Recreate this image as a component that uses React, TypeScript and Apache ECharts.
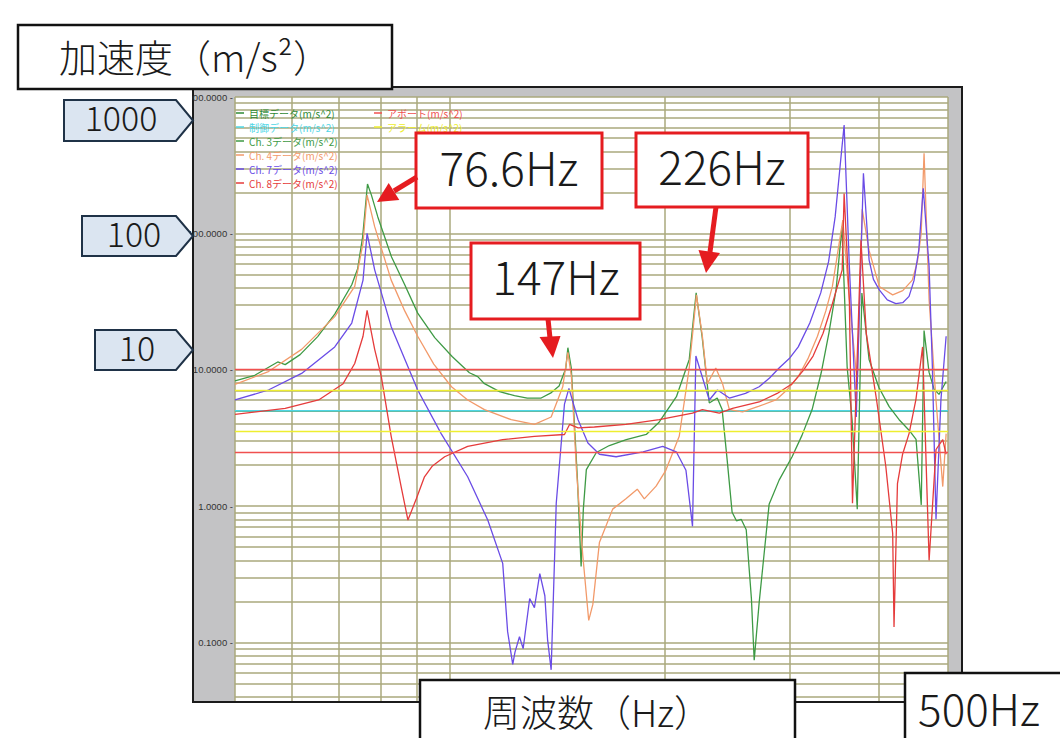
import React, { useEffect, useRef } from "react";
import * as echarts from "echarts";

// ---- axes ----
const FREQ_RANGE = [50, 500];
const ACCEL_RANGE = [0.0372, 1000];
const FREQ_GRID = [50, 60, 70, 80, 90, 100, 200, 300, 400, 500];
const ACCEL_GRID = [
  0.04, 0.05, 0.06, 0.07, 0.08, 0.09,
  0.1, 0.2, 0.3, 0.4, 0.5, 0.6, 0.7, 0.8, 0.9,
  1, 2, 3, 4, 5, 6, 7, 8, 9,
  10, 20, 30, 40, 50, 60, 70, 80, 90,
  100, 200, 300, 400, 500, 600, 700, 800, 900, 1000,
];
const ACCEL_LABELS = [0.1, 1, 10, 100, 1000];

// ---- levels ----
const TARGET_LEVEL = 5;
const CONTROL_LEVEL = 5;
const ABORT_LEVELS = [10, 2.5];
const ALARM_LEVELS = [7.07, 3.54];

// ---- measured channels [Hz, m/s^2] ----
const CH3 = [
  [50, 8.3], [53.3, 9.1], [57.4, 11.4], [58.8, 10.9], [61.7, 12.9], [65.3, 17.5], [69, 25.6], [72.9, 42],
  [74.3, 55], [75.5, 94], [76.7, 230], [77.7, 190], [79.3, 132], [82.9, 67], [86.5, 42], [90.2, 26],
  [95.3, 17.2], [100.8, 12.5], [106.6, 9.5], [109.5, 8.9], [111.9, 7.9], [117.5, 6.9], [123.3, 6.45],
  [128.5, 6.2], [134.4, 6.2], [138.9, 6.8], [142.4, 7.6], [145.5, 10.2], [146.5, 14.5], [148.1, 10.3],
  [149.6, 4.1], [151.1, 1.56], [152.9, 0.36], [154, 0.95], [155.5, 1.85], [160.6, 2.47], [167.5, 2.78],
  [176.9, 3.07], [188.7, 3.35], [196.5, 4.1], [208, 6.34], [216.8, 11.9], [221.7, 36.6], [226, 17.5],
  [231.3, 5.7], [237.3, 6.2], [241.1, 5.1], [245, 2.2], [249, 0.9], [252.5, 0.78], [256.4, 0.8], [260.6, 0.67],
  [265, 0.21], [267.4, 0.074], [271.7, 0.195], [280.6, 1.03], [289.8, 1.55], [302.2, 2.3], [312, 3.3],
  [322.4, 5.1], [332, 9.5], [340.5, 18.8], [348.4, 39], [355, 112], [361, 10.5], [366.8, 4.3], [373, 0.95],
  [378.6, 36.5], [387.5, 11.9], [400, 7.4], [413.5, 5.36], [427, 4.3], [440.9, 3.6], [451, 3.08],
  [458.6, 1.02], [462.8, 19.4], [470.3, 9.6], [478, 7.2], [485.7, 6.6], [497, 8.2],
];
const CH4 = [
  [50, 7.8], [55.7, 9.7], [62, 14.1], [69, 24.5], [73.6, 40.8], [75.6, 85], [76.6, 191], [78.5, 112],
  [82.8, 45.4], [86.5, 27], [90.2, 17.6], [95, 11], [100.6, 7.5], [106, 6.0], [111.9, 5.1], [122, 4.3],
  [131.5, 3.97], [138.8, 4.5], [144.1, 7.5], [146.5, 13.4], [148.2, 8.9], [150.6, 1.85], [153.7, 0.44],
  [156.7, 0.145], [158.8, 0.19], [162.2, 0.54], [169.3, 0.95], [176.7, 1.13], [183.3, 1.33], [187.5, 1.13],
  [194.8, 1.4], [201, 1.83], [209.9, 3.25], [216.8, 10.3], [221.9, 35.4], [226.2, 17.6], [229.9, 7.9],
  [236.2, 10.3], [241.4, 7.9], [246.8, 5.1], [257.5, 4.9], [271.7, 5.4], [286.8, 6.0], [298, 7.2],
  [308.3, 8.9], [318, 12], [328, 17.6], [337, 27], [344.2, 40.8], [356, 125], [363.6, 32.5], [373, 7.9],
  [379, 150], [387.5, 75], [400.5, 40.8], [418.2, 35.4], [432, 38], [445.6, 45.4], [453, 62],
  [458.5, 100], [462.8, 386], [470.4, 32.5], [481, 6.0], [491.6, 1.39], [497, 3.4],
];
const CH7 = [
  [50, 6.0], [55.7, 7.1], [62, 9.4], [69, 14.7], [72.9, 22], [75.6, 45.4], [76.6, 100], [78.5, 54],
  [82.8, 20.7], [90.2, 7.1], [97.3, 3.4], [106, 1.64], [113.1, 0.79], [118.7, 0.38], [120.6, 0.12],
  [122.6, 0.069], [123.5, 0.085], [125.3, 0.11], [126.8, 0.09], [129.5, 0.21], [131.5, 0.18],
  [133.8, 0.32], [136, 0.22], [137.2, 0.105], [138.8, 0.063], [141.1, 1.05], [144.9, 5.6], [147, 7.3],
  [151.4, 4.3], [156.3, 2.9], [162.2, 2.4], [171.2, 2.3], [186.8, 2.5], [199, 2.74], [207.9, 2.5],
  [214.5, 1.83], [219.1, 0.71], [221.5, 12.6], [231.3, 6.0], [237.5, 7.1], [246.8, 6.2], [260, 6.7],
  [271.7, 7.5], [281, 8.7], [289.8, 10.3], [300, 12.2], [308.3, 14.7], [320, 22], [331.5, 36.6],
  [340, 62], [347.3, 132], [357.5, 623], [363.6, 57], [371.8, 4.5], [380.5, 276], [387.5, 64],
  [393, 46], [400.5, 38.5], [411, 32.5], [422.5, 30.5], [432, 31], [440.9, 34.5], [448, 45],
  [455, 75.5], [461.6, 214], [470.4, 57], [475.4, 10.5], [481, 0.8], [488.7, 6.0], [497, 17.6],
];
const CH8 = [
  [50, 4.7], [58.8, 5.2], [65.5, 6.0], [70.9, 7.9], [73.6, 11.1], [75.6, 17.6], [76.6, 27.2], [78.5, 14.1],
  [80.2, 8.9], [82.8, 3.25], [85.5, 1.39], [87.4, 0.79], [89.8, 1.13], [92.2, 1.64], [94.6, 1.97],
  [98.4, 2.3], [106, 2.74], [118.7, 3.07], [131.5, 3.25], [144.9, 3.35], [147.3, 3.97], [151.4, 3.75],
  [159.6, 3.8], [176.7, 3.97], [196.8, 4.3], [219.1, 4.8], [226.2, 5.1], [238.9, 4.8], [249.3, 5.2],
  [271.7, 5.8], [288, 6.7], [302.3, 7.9], [313, 9.8], [323.4, 12.6], [334, 18.5], [344.2, 30.5],
  [355.3, 54], [357.5, 196], [363.6, 32.5], [367.3, 1.05], [377.5, 89], [384, 18.5], [397, 6.0],
  [409, 1.96], [418.2, 0.63], [420, 0.13], [424.7, 1.46], [431.8, 2.4], [440.9, 3.4], [450.7, 6.0],
  [460.6, 14.7], [470.4, 0.4], [481, 2.6], [491.6, 3.07], [497, 2.4],
];

const NAMES = {
  target: "目標データ(m/s^2)",
  control: "制御データ(m/s^2)",
  ch3: "Ch. 3データ(m/s^2)",
  ch4: "Ch. 4データ(m/s^2)",
  ch7: "Ch. 7データ(m/s^2)",
  ch8: "Ch. 8データ(m/s^2)",
  abort: "アボート(m/s^2)",
  alarm: "アラーム(m/s^2)",
};
const COLORS = {
  target: "#2f8a34",
  control: "#4fd6e6",
  ch3: "#3e9a45",
  ch4: "#f29a6a",
  ch7: "#6a4ce6",
  ch8: "#e53b3b",
  abort: "#f0504f",
  alarm: "#eeee30",
  grid: "#aaa87c",
};

const JP = "'Noto Sans CJK JP', 'Noto Sans', sans-serif";

function lineSeries(key: string, data: number[][]) {
  return {
    name: NAMES[key],
    type: "line",
    data,
    symbol: "none",
    silent: true,
    z: 2,
    itemStyle: { color: COLORS[key] },
    lineStyle: { color: COLORS[key], width: 1.3 },
  };
}

function levelSeries(key: string, levels: number[]) {
  return {
    name: NAMES[key],
    type: "line",
    data: [],
    symbol: "none",
    silent: true,
    itemStyle: { color: COLORS[key] },
    lineStyle: { color: COLORS[key], width: 1.3 },
    markLine: {
      symbol: "none",
      silent: true,
      z: 3,
      label: { show: false },
      emphasis: { disabled: true },
      lineStyle: { color: COLORS[key], width: 1.3, type: "solid" },
      data: levels.map((v) => ({ yAxis: v })),
    },
  };
}

function legendItem(key: string) {
  return { name: NAMES[key], textStyle: { color: COLORS[key] } };
}

function box(x: number, y: number, w: number, h: number, stroke: string, lw: number) {
  return {
    type: "rect",
    z: 100,
    shape: { x, y, width: w, height: h },
    style: { fill: "#ffffff", stroke, lineWidth: lw },
  };
}
function label(text: string, x: number, y: number, size: number) {
  return {
    type: "text",
    z: 101,
    x,
    y,
    style: {
      text,
      fill: "#1a1a1a",
      fontSize: size,
      fontWeight: 300,
      fontFamily: JP,
      align: "center",
      verticalAlign: "middle",
    },
  };
}
function tag(text: string, left: number, top: number, bottom: number, cx: number) {
  const mid = (top + bottom) / 2;
  return [
    {
      type: "polygon",
      z: 100,
      shape: { points: [[left, top], [176, top], [193, mid], [176, bottom], [left, bottom]] },
      style: { fill: "#dbe5f1", stroke: "#1f3247", lineWidth: 2 },
    },
    label(text, cx, mid - 4, 34),
  ];
}
const RED = "#e51c20";
function arrow(x1: number, y1: number, x2: number, y2: number, tip: number[], b1: number[], b2: number[]) {
  return [
    { type: "line", z: 100, shape: { x1, y1, x2, y2 }, style: { stroke: RED, lineWidth: 5 } },
    { type: "polygon", z: 100, shape: { points: [tip, b1, b2] }, style: { fill: RED } },
  ];
}

export default function App() {
  const ref = useRef<HTMLDivElement>(null);
  useEffect(() => {
    if (!ref.current) return;
    const chart = echarts.init(ref.current, null, { renderer: "svg" });
    const legendBase = {
      orient: "vertical",
      top: 107,
      padding: 0,
      icon: "rect",
      itemWidth: 8,
      itemHeight: 1.5,
      itemGap: 2,
      selectedMode: false,
      textStyle: { fontSize: 10, lineHeight: 12, fontFamily: JP },
    };
    const option = {
      animation: false,
      backgroundColor: "#ffffff",
      grid: { left: 235, right: 112, top: 97, bottom: 37, outerBoundsMode: "none", containLabel: false },
      xAxis: {
        type: "log",
        logBase: 10,
        min: FREQ_RANGE[0],
        max: FREQ_RANGE[1],
        axisLine: { show: false },
        axisTick: { show: false },
        axisLabel: { show: false },
        splitLine: { show: false },
      },
      yAxis: {
        type: "log",
        logBase: 10,
        min: ACCEL_RANGE[0],
        max: ACCEL_RANGE[1],
        splitNumber: 5,
        axisLine: { show: false },
        axisTick: { show: false },
        splitLine: { show: false },
        axisLabel: {
          margin: 2,
          color: "#333333",
          fontSize: 9.5,
          fontFamily: "'Liberation Sans', Arial, sans-serif",
          formatter: (v: number) =>
            ACCEL_LABELS.some((l) => Math.abs(v / l - 1) < 1e-6) ? `${v.toFixed(4)} -` : "",
        },
      },
      legend: [
        { ...legendBase, left: 236, data: ["target", "control", "ch3", "ch4", "ch7", "ch8"].map(legendItem) },
        { ...legendBase, left: 374, data: ["abort", "alarm"].map(legendItem) },
      ],
      series: [
        {
          name: "__grid",
          type: "line",
          data: [],
          symbol: "none",
          silent: true,
          z: 1,
          markLine: {
            symbol: "none",
            silent: true,
            z: 1,
            label: { show: false },
            emphasis: { disabled: true },
            lineStyle: { color: COLORS.grid, width: 1.5, type: "solid" },
            data: [
              ...FREQ_GRID.map((f) => ({ xAxis: f })),
              ...ACCEL_GRID.map((a) => ({ yAxis: a })),
            ],
          },
        },
        lineSeries("target", FREQ_RANGE.map((f) => [f, TARGET_LEVEL])),
        lineSeries("control", FREQ_RANGE.map((f) => [f, CONTROL_LEVEL])),
        levelSeries("abort", ABORT_LEVELS),
        levelSeries("alarm", ALARM_LEVELS),
        lineSeries("ch3", CH3),
        lineSeries("ch4", CH4),
        lineSeries("ch7", CH7),
        lineSeries("ch8", CH8),
      ],
      graphic: [
        { type: "rect", z: -10, shape: { x: 193, y: 87, width: 769, height: 615 }, style: { fill: "#c3c3c5", stroke: "#1b1b1b", lineWidth: 2 } },
        { type: "rect", z: -9, shape: { x: 235, y: 97, width: 713, height: 604 }, style: { fill: "#ffffff" } },
        { type: "rect", z: 99, shape: { x: 130, y: 89, width: 62, height: 15 }, style: { fill: "#ffffff" } },
        box(18, 25, 374, 64, "#111111", 2.5),
        label("加速度（m/s²）", 195, 55, 38),
        ...tag("1000", 64, 100, 141, 121),
        ...tag("100", 82, 216, 256, 134),
        ...tag("10", 95, 330, 370, 137),
        box(416, 133, 186, 75, RED, 3),
        label("76.6Hz", 509, 166, 46),
        box(636, 133, 172, 74, RED, 3),
        label("226Hz", 722, 165, 46),
        box(471, 243, 169, 76, RED, 3),
        label("147Hz", 556, 275, 46),
        ...arrow(417, 177, 394, 191, [377, 202], [399.3, 199.9], [388.7, 182.9]),
        ...arrow(548, 319, 550, 338, [553, 358], [539.5, 337], [560.5, 336]),
        ...arrow(716, 207, 710, 252, [706, 273], [698.5, 250], [720, 253]),
        box(420, 680, 375, 75, "#111111", 2.5),
        label("周波数（Hz）", 597, 711, 37),
        box(905, 673, 170, 80, "#111111", 2.5),
        label("500Hz", 979, 707, 44),
      ],
    };
    chart.setOption(option as any);
    return () => chart.dispose();
  }, []);
  return (
    <div
      ref={ref}
      style={{ position: "fixed", left: 0, top: 0, width: 1060, height: 738, background: "#fff" }}
    />
  );
}
